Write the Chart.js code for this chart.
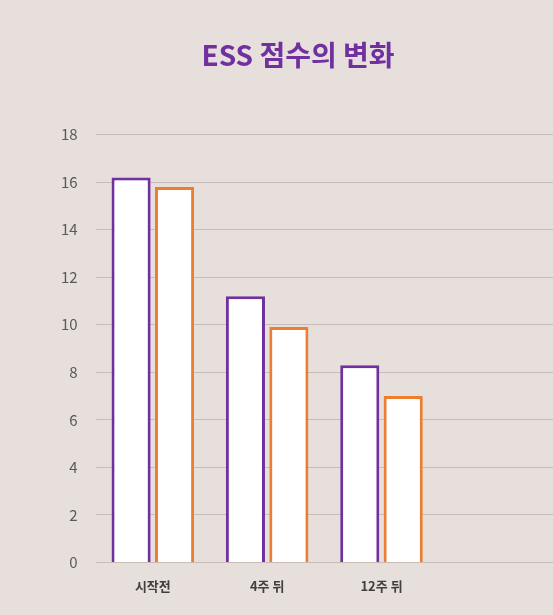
<!DOCTYPE html>
<html>
<head>
<meta charset="utf-8">
<script src="https://cdn.jsdelivr.net/npm/chart.js@4"></script>
<style>
  html, body { margin: 0; padding: 0; background: #e7dfdc; }
  #wrap { width: 553px; height: 615px; }
</style>
</head>
<body>
<div id="wrap"><canvas id="essChart"></canvas></div>
<script>
// ESS 점수 데이터
const categories = ['시작전', '4주 뒤', '12주 뒤', ''];
const seriesA = [16.2, 11.2, 8.3, null];
const seriesB = [15.8, 9.9, 7.0, null];
const yTicks = [0, 2, 4, 6, 8, 10, 12, 14, 16, 18];

const font = '"Noto Sans CJK KR", "Noto Sans", sans-serif';

new Chart(document.getElementById('essChart'), {
    type: 'bar',
    data: {
        labels: categories,
        datasets: [
            { label: 'A', data: seriesA, backgroundColor: '#ffffff', borderColor: '#7030a0', borderWidth: 3 },
            { label: 'B', data: seriesB, backgroundColor: '#ffffff', borderColor: '#ed7d31', borderWidth: 3 }
        ]
    },
    options: {
        responsive: true,
        maintainAspectRatio: false,
        animation: false,
        categoryPercentage: 0.76,
        barPercentage: 0.9,
        layout: { padding: { left: 43, right: 0, top: 10, bottom: 13 } },
        scales: {
            x: {
                grid: { display: false },
                border: { display: false },
                ticks: { color: '#404040', font: { family: font, size: 13, weight: 'bold' }, padding: 8 }
            },
            y: {
                min: 0, max: 18,
                afterBuildTicks: axis => { axis.ticks = yTicks.map(v => ({ value: v })); },
                grid: { color: '#c9bcb6', drawTicks: false },
                border: { display: false },
                ticks: { color: '#595959', font: { family: font, size: 15 }, padding: 18 }
            }
        },
        plugins: {
            legend: { display: false },
            title: {
                display: true,
                text: 'ESS 점수의 변화',
                color: '#7030a0',
                font: { family: font, size: 28, weight: 'bold' },
                padding: { top: 29, bottom: 62 }
            }
        }
    }
});
</script>
</body>
</html>
